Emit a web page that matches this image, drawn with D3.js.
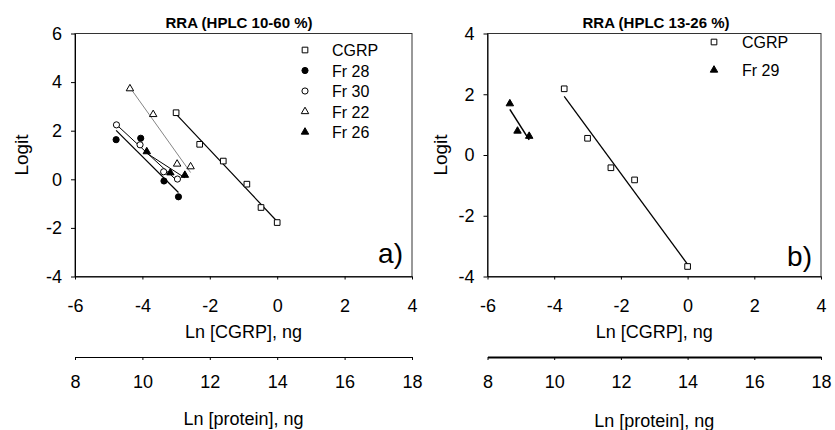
<!DOCTYPE html>
<html lang="en">
<head>
<meta charset="UTF-8">
<title>RRA logit plots</title>
<script src="https://d3js.org/d3.v7.min.js"></script>
<style>
    body {
        margin: 0;
        background: #fff;
        font-family: "Liberation Sans", Arial, sans-serif;
    }
    .tick text {
        font-size: 18px;
        font-family: "Liberation Sans", Arial, sans-serif;
        fill: #000;
    }
    .axis path, .axis line {
        stroke: #000;
    }
</style>
</head>
<body>
<div id="chart"></div>
<script>
    // tick values
    const xTicks = [-6, -4, -2, 0, 2, 4];
    const proteinTicks = [8, 10, 12, 14, 16, 18];
    const yTicksA = [-4, -2, 0, 2, 4, 6];
    const yTicksB = [-4, -2, 0, 2, 4];

    // panel a: HPLC 10-60 %
    const cgrpA_x = [-3.0, -2.3, -1.6, -0.9, -0.48, 0];
    const cgrpA_y = [2.74, 1.44, 0.75, -0.2, -1.16, -1.78];
    const fr28_x = [-4.78, -4.05, -3.36, -2.93];
    const fr28_y = [1.63, 1.69, -0.07, -0.72];
    const fr30_x = [-4.77, -4.07, -3.37, -2.96];
    const fr30_y = [2.24, 1.42, 0.31, 0.01];
    const fr22_x = [-4.37, -3.68, -2.97, -2.57];
    const fr22_y = [3.73, 2.67, 0.63, 0.52];
    const fr26_x = [-3.87, -3.17, -2.74];
    const fr26_y = [1.14, 0.27, 0.17];

    // panel b: HPLC 13-26 %
    const cgrpB_x = [-3.7, -3.0, -2.3, -1.59, 0];
    const cgrpB_y = [2.18, 0.55, -0.42, -0.82, -3.67];
    const fr29_x = [-5.33, -5.1, -4.75];
    const fr29_y = [1.69, 0.79, 0.62];

    const svg = d3.select("#chart").append("svg")
        .attr("width", 835)
        .attr("height", 430);

    const marker = {
        squareOpen: { type: d3.symbolSquare, size: 32, fill: "#fff" },
        circleFilled: { type: d3.symbolCircle, size: 30, fill: "#000" },
        circleOpen: { type: d3.symbolCircle, size: 30, fill: "#fff" },
        triOpen: { type: d3.symbolTriangle, size: 24, fill: "#fff" },
        triFilled: { type: d3.symbolTriangle, size: 24, fill: "#000" }
    };

    function fit(xs, ys) {
        const mx = d3.mean(xs), my = d3.mean(ys);
        const sxy = d3.sum(xs, (v, i) => (v - mx) * (ys[i] - my));
        const sxx = d3.sum(xs, v => (v - mx) * (v - mx));
        const b = sxy / sxx;
        const lo = d3.min(xs), hi = d3.max(xs);
        return [[lo, my + b * (lo - mx)], [hi, my + b * (hi - mx)]];
    }

    function drawPanel(p) {
        const x = d3.scaleLinear().domain([-6, 4]).range([p.x0, p.x1]);
        const xp = d3.scaleLinear().domain([8, 18]).range([p.x0, p.x1]);
        const y = d3.scaleLinear().domain(p.yDomain).range([p.yBot, p.yTop]);
        const g = svg.append("g");

        // frame
        g.append("rect")
            .attr("x", p.x0).attr("y", p.yTop)
            .attr("width", p.x1 - p.x0).attr("height", p.yBot - p.yTop)
            .attr("fill", "none").attr("stroke", "#333").attr("stroke-width", 1);

        g.append("g").attr("class", "axis")
            .attr("transform", `translate(0,${p.yBot})`)
            .call(d3.axisBottom(x).tickValues(xTicks).tickFormat(String)
                .tickSize(3).tickSizeOuter(0).tickPadding(20));

        g.append("g").attr("class", "axis")
            .attr("transform", `translate(${p.x0},0)`)
            .call(d3.axisLeft(y).tickValues(p.yTicks).tickFormat(String)
                .tickSize(4).tickSizeOuter(0).tickPadding(9));

        const pAxis = g.append("g").attr("class", "axis")
            .attr("transform", "translate(0,357)")
            .call(d3.axisBottom(xp).tickValues(proteinTicks).tickFormat(String)
                .tickSize(3).tickSizeOuter(0).tickPadding(15));
        pAxis.select(".domain").attr("stroke-width", p.protWidth);

        g.selectAll(".tick text").attr("font-size", 18);

        // titles and labels
        g.append("text")
            .attr("x", p.titleX).attr("y", 28)
            .attr("text-anchor", "middle")
            .attr("font-size", 15).attr("font-weight", "bold")
            .text(p.title);

        g.append("text")
            .attr("x", (p.x0 + p.x1) / 2).attr("y", 338)
            .attr("text-anchor", "middle").attr("font-size", 18)
            .text("Ln [CGRP], ng");

        g.append("text")
            .attr("x", (p.x0 + p.x1) / 2).attr("y", p.protLabelY)
            .attr("text-anchor", "middle").attr("font-size", 18)
            .text("Ln [protein], ng");

        g.append("text")
            .attr("transform", `translate(${p.logitX},${(p.yTop + p.yBot) / 2}) rotate(-90)`)
            .attr("text-anchor", "middle").attr("font-size", 19)
            .text("Logit");

        g.append("text")
            .attr("x", p.x1 - 9).attr("y", p.tagY)
            .attr("text-anchor", "end").attr("font-size", 28)
            .text(p.tag);

        // regression lines
        p.series.forEach(s => {
            const ends = fit(s.x, s.y);
            g.append("line")
                .attr("x1", x(ends[0][0])).attr("y1", y(ends[0][1]))
                .attr("x2", x(ends[1][0])).attr("y2", y(ends[1][1]))
                .attr("stroke", s.lineColor).attr("stroke-width", s.lineWidth);
        });

        // points
        p.series.forEach(s => {
            const m = marker[s.marker];
            g.append("g").selectAll("path")
                .data(s.x.map((v, i) => [v, s.y[i]]))
                .join("path")
                .attr("transform", d => `translate(${x(d[0])},${y(d[1])})`)
                .attr("d", d3.symbol().type(m.type).size(m.size))
                .attr("fill", m.fill).attr("stroke", "#000").attr("stroke-width", 1);
        });

        // legend
        p.series.forEach((s, i) => {
            const m = marker[s.marker];
            const ly = p.legendY + i * p.legendStep;
            g.append("path")
                .attr("transform", `translate(${p.legendX},${ly})`)
                .attr("d", d3.symbol().type(m.type).size(m.size))
                .attr("fill", m.fill).attr("stroke", "#000").attr("stroke-width", 1);
            g.append("text")
                .attr("x", p.legendX + p.legendGap).attr("y", ly + 6)
                .attr("font-size", 16)
                .text(s.label);
        });
    }

    drawPanel({
        x0: 75, x1: 412, yTop: 33.5, yBot: 276.5,
        yDomain: [-4, 6], yTicks: yTicksA,
        title: "RRA (HPLC 10-60 %)", titleX: 239,
        logitX: 28, tag: "a)", tagY: 263,
        protLabelY: 425, protWidth: 1,
        legendX: 305, legendGap: 27, legendY: 50, legendStep: 20.5,
        series: [
            { label: "CGRP", x: cgrpA_x, y: cgrpA_y, marker: "squareOpen", lineColor: "#000", lineWidth: 1.2 },
            { label: "Fr 28", x: fr28_x, y: fr28_y, marker: "circleFilled", lineColor: "#000", lineWidth: 1.2 },
            { label: "Fr 30", x: fr30_x, y: fr30_y, marker: "circleOpen", lineColor: "#000", lineWidth: 1 },
            { label: "Fr 22", x: fr22_x, y: fr22_y, marker: "triOpen", lineColor: "#666", lineWidth: 0.8 },
            { label: "Fr 26", x: fr26_x, y: fr26_y, marker: "triFilled", lineColor: "#000", lineWidth: 1 }
        ]
    });

    drawPanel({
        x0: 487.5, x1: 821, yTop: 33.5, yBot: 276.5,
        yDomain: [-4, 4], yTicks: yTicksB,
        title: "RRA (HPLC 13-26 %)", titleX: 656,
        logitX: 447, tag: "b)", tagY: 266,
        protLabelY: 427, protWidth: 2,
        legendX: 714, legendGap: 28, legendY: 42, legendStep: 28,
        series: [
            { label: "CGRP", x: cgrpB_x, y: cgrpB_y, marker: "squareOpen", lineColor: "#000", lineWidth: 1.3 },
            { label: "Fr 29", x: fr29_x, y: fr29_y, marker: "triFilled", lineColor: "#000", lineWidth: 1.5 }
        ]
    });
</script>
</body>
</html>
